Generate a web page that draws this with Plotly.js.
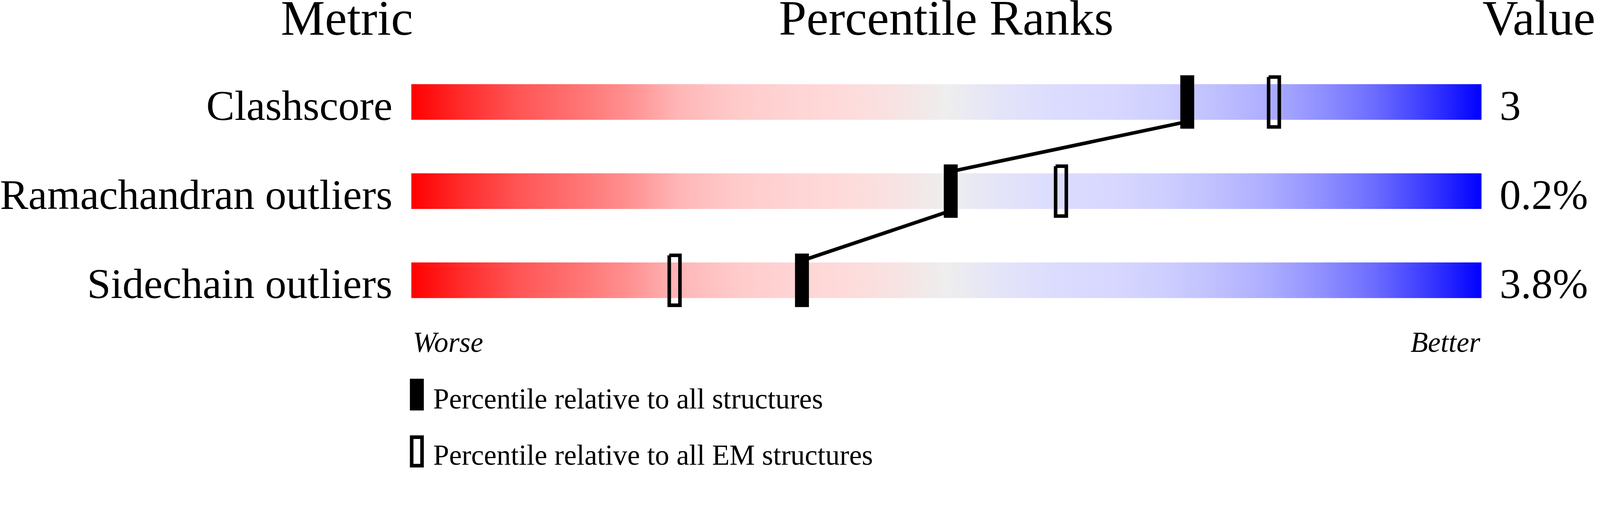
<!DOCTYPE html>
<html>
<head>
<meta charset="utf-8">
<script src="https://cdn.plot.ly/plotly-3.0.1.min.js"></script>
<style>
  html, body { margin: 0; padding: 0; background: #fff; overflow: hidden; }
</style>
</head>
<body>
<div id="chart"></div>
<script>
// values
const metrics = ["Clashscore", "Ramachandran outliers", "Sidechain outliers"]
const metricValues = ["3", "0.2%", "3.8%"]
const pctAll = [72.5, 50.4, 36.5]
const pctEM = [80.6, 60.7, 24.6]
const columnTitles = ["Metric", "Percentile Ranks", "Value"]
const scaleEnds = ["Worse", "Better"]
const legendLabels = ["Percentile relative to all structures", "Percentile relative to all EM structures"]

// red -> grey -> blue slider
const sliderColors = [
    [0.00, "#ff0000"],
    [0.05, "#ff2e2e"],
    [0.10, "#ff5555"],
    [0.15, "#ff7070"],
    [0.20, "#ff8e8e"],
    [0.25, "#ffb6b6"],
    [0.30, "#ffc9c9"],
    [0.35, "#ffd3d3"],
    [0.40, "#ffdada"],
    [0.45, "#f8e2e2"],
    [0.50, "#eeeeee"],
    [0.55, "#e4e4f8"],
    [0.60, "#dcdcff"],
    [0.65, "#d8d8ff"],
    [0.70, "#cfcfff"],
    [0.75, "#c0c0ff"],
    [0.80, "#adadff"],
    [0.85, "#9090ff"],
    [0.90, "#6c6cff"],
    [0.95, "#3a3aff"],
    [1.00, "#0000ff"]
]

// design size is 4485x1311; scale everything to the actual window
const BASE_W = 4485, BASE_H = 1311
const S = Math.min((window.innerWidth || BASE_W) / BASE_W, (window.innerHeight || BASE_H) / BASE_H)
const W = BASE_W * S, H = BASE_H * S
const px = v => v * S

const FONT = '"Liberation Serif", "Times New Roman", serif'
const BAR_H = 0.2       // half height of a slider, in row units
const MARK_H = 0.3      // half height of a percentile marker
const MARK_W = 0.65     // half width of the filled marker, percentile units
const OPEN_W = 0.5
const OPEN_H = 0.28
const rows = metrics.map((m, i) => i)

function boxPath(xs, ys, hw, hh) {
    const x = [], y = []
    xs.forEach((c, i) => {
        const r = ys[i]
        x.push(c - hw, c + hw, c + hw, c - hw, c - hw, null)
        y.push(r - hh, r - hh, r + hh, r + hh, r - hh, null)
    })
    return {x, y}
}

const traces = []

// sliders
rows.forEach(r => {
    traces.push({
        type: "scatter",
        mode: "none",
        x: [0, 100, 100, 0, 0],
        y: [r - BAR_H, r - BAR_H, r + BAR_H, r + BAR_H, r - BAR_H],
        fill: "toself",
        fillcolor: "#eeeeee",
        fillgradient: {type: "horizontal", colorscale: sliderColors, start: 0, stop: 100},
        hoverinfo: "skip",
        showlegend: false
    })
})

// line joining the "all structures" markers
const lx = [], ly = []
for (let i = 0; i < rows.length - 1; i++) {
    lx.push(pctAll[i], pctAll[i + 1], null)
    ly.push(rows[i] + BAR_H + 0.02, rows[i + 1] - BAR_H - 0.02, null)
}
traces.push({
    type: "scatter",
    mode: "lines",
    x: lx,
    y: ly,
    line: {color: "#000", width: px(10)},
    connectgaps: false,
    hoverinfo: "skip",
    showlegend: false
})

// EM markers (open boxes)
const em = boxPath(pctEM, rows, OPEN_W, OPEN_H)
traces.push({
    type: "scatter",
    mode: "lines",
    x: em.x,
    y: em.y,
    connectgaps: false,
    line: {color: "#000", width: px(10)},
    hoverinfo: "skip",
    showlegend: false
})

// all-structure markers (filled boxes)
rows.forEach(r => {
    const b = boxPath([pctAll[r]], [r], MARK_W, MARK_H)
    traces.push({
        type: "scatter",
        mode: "none",
        x: b.x.slice(0, 5),
        y: b.y.slice(0, 5),
        fill: "toself",
        fillcolor: "#000",
        hoverinfo: "skip",
        showlegend: false
    })
})

const annotations = []
const titleY = -0.944
const titleFont = {size: px(139)}
annotations.push({xref: "paper", x: 972 / BASE_W, yref: "y", y: titleY, text: columnTitles[0],
    xanchor: "center", yanchor: "middle", showarrow: false, font: titleFont})
annotations.push({xref: "x", x: 50, yref: "y", y: titleY, text: columnTitles[1],
    xanchor: "center", yanchor: "middle", showarrow: false, font: titleFont})
annotations.push({xref: "x", x: 100, yref: "y", y: titleY, text: columnTitles[2],
    xanchor: "left", yanchor: "middle", showarrow: false, font: titleFont})

rows.forEach(r => {
    annotations.push({xref: "x", x: 0, yref: "y", y: r + 0.04, text: metrics[r],
        xanchor: "right", yanchor: "middle", xshift: px(-50), showarrow: false, font: {size: px(119)}})
    annotations.push({xref: "x", x: 100, yref: "y", y: r + 0.04, text: metricValues[r],
        xanchor: "left", yanchor: "middle", xshift: px(48), showarrow: false, font: {size: px(119)}})
})

annotations.push({xref: "x", x: 0, yref: "y", y: 2.696, text: "<i>" + scaleEnds[0] + "</i>",
    xanchor: "left", yanchor: "middle", xshift: px(2), showarrow: false, font: {size: px(80)}})
annotations.push({xref: "x", x: 100, yref: "y", y: 2.696, text: "<i>" + scaleEnds[1] + "</i>",
    xanchor: "right", yanchor: "middle", xshift: px(-1), showarrow: false, font: {size: px(80)}})

const legendY = [3.332, 3.964]
legendLabels.forEach((t, i) => {
    annotations.push({xref: "x", x: 0, yref: "y", y: legendY[i], text: t,
        xanchor: "left", yanchor: "middle", xshift: px(59), showarrow: false, font: {size: px(80)}})
})

// legend keys
const shapes = [
    {type: "rect", xref: "paper", yref: "paper",
        x0: 1149 / BASE_W, x1: 1188 / BASE_W, y0: 1 - 1151 / BASE_H, y1: 1 - 1062 / BASE_H,
        fillcolor: "#000", line: {width: 0}},
    {type: "rect", xref: "paper", yref: "paper",
        x0: 1154 / BASE_W, x1: 1183 / BASE_W, y0: 1 - 1306 / BASE_H, y1: 1 - 1226 / BASE_H,
        fillcolor: "rgba(0,0,0,0)", line: {color: "#000", width: px(10)}}
]

const layout = {
    width: W,
    height: H,
    margin: {l: 0, r: 0, t: 0, b: 0, pad: 0},
    paper_bgcolor: "#fff",
    plot_bgcolor: "#fff",
    showlegend: false,
    font: {family: FONT, color: "#000"},
    xaxis: {domain: [1153 / BASE_W, 4153 / BASE_W], range: [0, 100], visible: false, fixedrange: true},
    yaxis: {range: [4.1, -1.144], visible: false, fixedrange: true},
    annotations: annotations,
    shapes: shapes
}

document.getElementById("chart").style.width = W + "px"
document.getElementById("chart").style.height = H + "px"
Plotly.newPlot("chart", traces, layout, {staticPlot: true, displayModeBar: false})
</script>
</body>
</html>
